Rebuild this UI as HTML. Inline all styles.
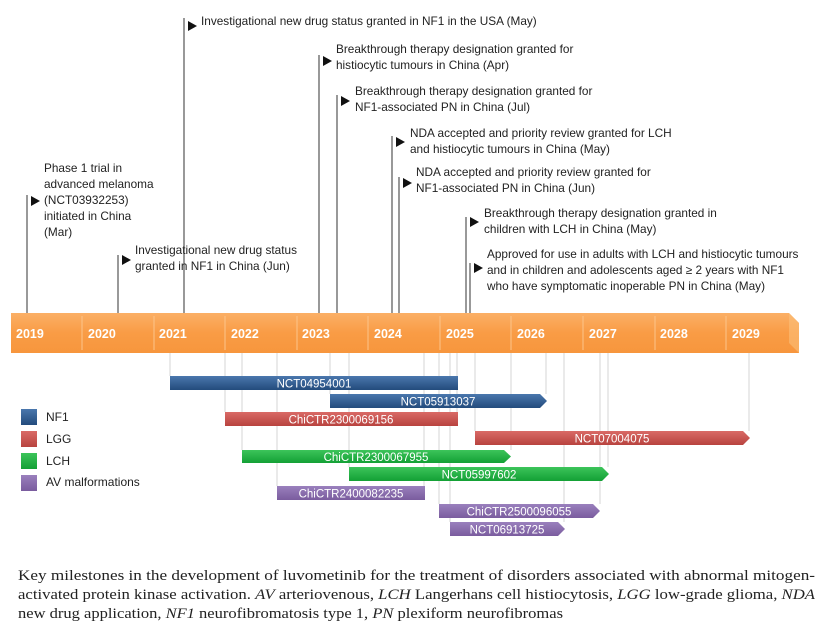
<!DOCTYPE html>
<html><head><meta charset="utf-8"><style>
html,body{margin:0;padding:0;background:#fff;}
svg{display:block;}
</style></head><body>
<svg width="832" height="630" viewBox="0 0 832 630" xmlns="http://www.w3.org/2000/svg">
<defs>
<linearGradient id="og" x1="0" y1="0" x2="0" y2="1">
<stop offset="0" stop-color="#fbb066"/><stop offset="0.5" stop-color="#f99c45"/><stop offset="1" stop-color="#f7963d"/></linearGradient>
<linearGradient id="b1" x1="0" y1="0" x2="0" y2="1"><stop offset="0" stop-color="#4a77ad"/><stop offset="1" stop-color="#234b7c"/></linearGradient>
<linearGradient id="b2" x1="0" y1="0" x2="0" y2="1"><stop offset="0" stop-color="#d96a66"/><stop offset="1" stop-color="#b8433f"/></linearGradient>
<linearGradient id="b3" x1="0" y1="0" x2="0" y2="1"><stop offset="0" stop-color="#3cc45a"/><stop offset="1" stop-color="#13a035"/></linearGradient>
<linearGradient id="b4" x1="0" y1="0" x2="0" y2="1"><stop offset="0" stop-color="#9a80bd"/><stop offset="1" stop-color="#7a5c9e"/></linearGradient>
</defs>

<g stroke="#dcdcdc" stroke-width="1.2">
<line x1="170" y1="353" x2="170" y2="376"/><line x1="225" y1="353" x2="225" y2="412"/>
<line x1="242" y1="353" x2="242" y2="450"/><line x1="277" y1="353" x2="277" y2="486"/>
<line x1="330" y1="353" x2="330" y2="394"/><line x1="349" y1="353" x2="349" y2="467"/>
<line x1="424" y1="353" x2="424" y2="486"/><line x1="439" y1="353" x2="439" y2="504"/>
<line x1="450" y1="353" x2="450" y2="522"/><line x1="457" y1="353" x2="457" y2="412"/>
<line x1="475" y1="353" x2="475" y2="431"/><line x1="511" y1="353" x2="511" y2="450"/>
<line x1="546" y1="353" x2="546" y2="394"/><line x1="564" y1="353" x2="564" y2="522"/>
<line x1="600" y1="353" x2="600" y2="504"/><line x1="608" y1="353" x2="608" y2="467"/>
<line x1="749" y1="353" x2="749" y2="431"/>
</g>

<path d="M11 313 H789 L799 323 V353 H11 Z" fill="url(#og)"/>
<path d="M789 313 L799 323 V353 L789 343 Z" fill="#fcc07a" opacity="0.6"/>
<g stroke="#fcc48a" stroke-width="1">
<line x1="82" y1="316" x2="82" y2="350"/><line x1="154" y1="316" x2="154" y2="350"/>
<line x1="225" y1="316" x2="225" y2="350"/><line x1="297" y1="316" x2="297" y2="350"/>
<line x1="368" y1="316" x2="368" y2="350"/><line x1="440" y1="316" x2="440" y2="350"/>
<line x1="511" y1="316" x2="511" y2="350"/><line x1="583" y1="316" x2="583" y2="350"/>
<line x1="655" y1="316" x2="655" y2="350"/><line x1="726" y1="316" x2="726" y2="350"/>
</g>
<g font-family="Liberation Sans, sans-serif" font-weight="bold" font-size="12.5" fill="#fff">
<text x="16" y="338">2019</text><text x="88" y="338">2020</text><text x="159" y="338">2021</text>
<text x="231" y="338">2022</text><text x="302" y="338">2023</text><text x="374" y="338">2024</text>
<text x="446" y="338">2025</text><text x="517" y="338">2026</text><text x="589" y="338">2027</text>
<text x="660" y="338">2028</text><text x="732" y="338">2029</text>
</g>

<g stroke="#555" stroke-width="1.2">
<line x1="27" y1="195" x2="27" y2="313"/><line x1="118" y1="255" x2="118" y2="313"/>
<line x1="184" y1="18" x2="184" y2="313"/><line x1="319" y1="55" x2="319" y2="313"/>
<line x1="337" y1="95" x2="337" y2="313"/><line x1="392" y1="136" x2="392" y2="313"/>
<line x1="399" y1="177" x2="399" y2="313"/><line x1="466" y1="217" x2="466" y2="313"/>
<line x1="470" y1="263" x2="470" y2="313"/>
</g>
<g fill="#111">
<path d="M31 196 l9 5 l-9 5z"/><path d="M122 255 l9 5 l-9 5z"/>
<path d="M188 21 l9 5 l-9 5z"/><path d="M323 56 l9 5 l-9 5z"/>
<path d="M341 96 l9 5 l-9 5z"/><path d="M396 137 l9 5 l-9 5z"/>
<path d="M403 178 l9 5 l-9 5z"/><path d="M470 217 l9 5 l-9 5z"/>
<path d="M474 263 l9 5 l-9 5z"/>
</g>
<g font-family="Liberation Sans, sans-serif" font-size="11.8" fill="#222">
<text x="44" y="172">Phase  1 trial in</text>
<text x="44" y="188">advanced melanoma</text>
<text x="44" y="204">(NCT03932253)</text>
<text x="44" y="220">initiated in China</text>
<text x="44" y="236">(Mar)</text>
<text x="135" y="254">Investigational new drug status</text>
<text x="135" y="270">granted in NF1 in China (Jun)</text>
<text x="201" y="25">Investigational new drug status granted in NF1 in the USA (May)</text>
<text x="336" y="53">Breakthrough therapy designation granted for</text>
<text x="336" y="69">histiocytic tumours in China (Apr)</text>
<text x="355" y="95">Breakthrough therapy designation granted for</text>
<text x="355" y="111">NF1-associated PN in China (Jul)</text>
<text x="410" y="137">NDA accepted and priority review granted for LCH</text>
<text x="410" y="153">and histiocytic tumours in China (May)</text>
<text x="416" y="176">NDA accepted and priority review granted for</text>
<text x="416" y="192">NF1-associated PN in China (Jun)</text>
<text x="484" y="217">Breakthrough therapy designation granted in</text>
<text x="484" y="233">children  with LCH in China (May)</text>
<text x="487" y="258">Approved for use in adults with  LCH and histiocytic tumours</text>
<text x="487" y="274">and in children and adolescents aged ≥ 2 years with NF1</text>
<text x="487" y="290">who have symptomatic inoperable PN  in China (May)</text>
</g>

<path d="M170 376 H458 V390 H170Z" fill="url(#b1)"/>
<path d="M330 394 H540 L547 401 L540 408 H330Z" fill="url(#b1)"/>
<path d="M225 412 H458 V426 H225Z" fill="url(#b2)"/>
<path d="M475 431 H743 L750 438 L743 445 H475Z" fill="url(#b2)"/>
<path d="M242 450 H504 L511 456.5 L504 463 H242Z" fill="url(#b3)"/>
<path d="M349 467 H602 L609 474 L602 481 H349Z" fill="url(#b3)"/>
<path d="M277 486 H425 V500 H277Z" fill="url(#b4)"/>
<path d="M439 504 H593 L600 511 L593 518 H439Z" fill="url(#b4)"/>
<path d="M450 522 H558 L565 529 L558 536 H450Z" fill="url(#b4)"/>
<g font-family="Liberation Sans, sans-serif" font-size="11.5" fill="#fff" text-anchor="middle">
<text x="314" y="387.5">NCT04954001</text>
<text x="438" y="405.5">NCT05913037</text>
<text x="341" y="423.5">ChiCTR2300069156</text>
<text x="612" y="442.5">NCT07004075</text>
<text x="376" y="461">ChiCTR2300067955</text>
<text x="479" y="478.5">NCT05997602</text>
<text x="351" y="497.5">ChiCTR2400082235</text>
<text x="519" y="515.5">ChiCTR2500096055</text>
<text x="507" y="533.5">NCT06913725</text>
</g>

<rect x="21" y="409" width="16" height="16" fill="url(#b1)"/>
<rect x="21" y="431" width="16" height="16" fill="url(#b2)"/>
<rect x="21" y="453" width="16" height="16" fill="url(#b3)"/>
<rect x="21" y="475" width="16" height="16" fill="url(#b4)"/>
<g font-family="Liberation Sans, sans-serif" font-size="12" fill="#222">
<text x="46" y="421">NF1</text><text x="46" y="443">LGG</text>
<text x="46" y="465">LCH</text><text x="46" y="486">AV malformations</text>
</g>

<g font-family="Liberation Serif, serif" font-size="15" fill="#222">
<text x="18" y="580" textLength="797" lengthAdjust="spacingAndGlyphs">Key milestones in the development of luvometinib for the treatment of disorders associated with abnormal mitogen-</text>
<text x="18" y="599" textLength="797" lengthAdjust="spacingAndGlyphs">activated protein kinase activation. <tspan font-style="italic">AV</tspan> arteriovenous, <tspan font-style="italic">LCH</tspan> Langerhans cell histiocytosis, <tspan font-style="italic">LGG</tspan> low-grade glioma, <tspan font-style="italic">NDA</tspan></text>
<text x="18" y="618" textLength="545" lengthAdjust="spacingAndGlyphs">new drug application, <tspan font-style="italic">NF1</tspan> neurofibromatosis type 1, <tspan font-style="italic">PN</tspan> plexiform neurofibromas</text>
</g>
</svg>
</body></html>
